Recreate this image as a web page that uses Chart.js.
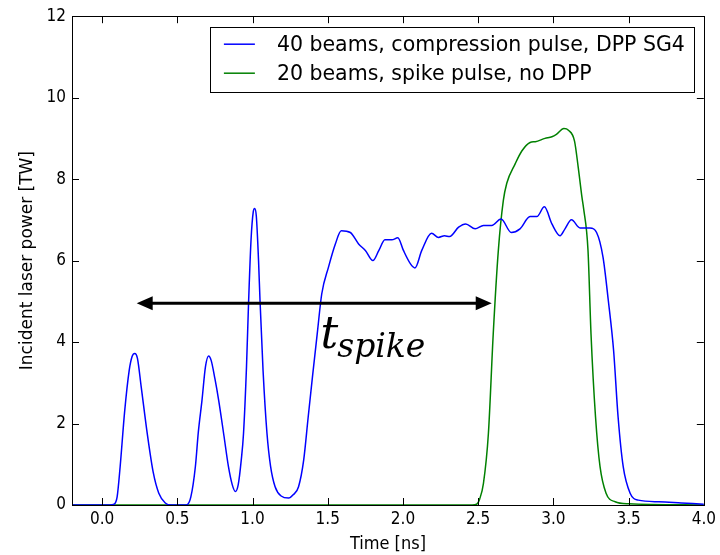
<!DOCTYPE html>
<html>
<head>
<meta charset="utf-8">
<script src="https://cdn.jsdelivr.net/npm/chart.js@4.4.0/dist/chart.umd.min.js"></script>
<style>
  html, body { margin: 0; padding: 0; background: #fff; }
  canvas { display: block; }
</style>
</head>
<body>
<canvas id="pulseChart" width="720" height="555"></canvas>
<script>
// data (time in ns, power in TW)
const blueT = [-0.2, 0.05, 0.08, 0.10, 0.12, 0.15, 0.18, 0.20, 0.217, 0.235, 0.26, 0.30, 0.34, 0.377, 0.42, 0.46,
  0.56, 0.59, 0.62, 0.64, 0.664, 0.687, 0.708, 0.725, 0.75, 0.775, 0.81, 0.84, 0.865, 0.886, 0.905, 0.925, 0.94,
  0.96, 0.974, 0.99, 1.005, 1.014, 1.025, 1.04, 1.05, 1.07, 1.096, 1.12, 1.15, 1.19, 1.24, 1.27, 1.306, 1.34, 1.37,
  1.40, 1.43, 1.46, 1.505, 1.55, 1.59, 1.65, 1.705, 1.75, 1.80, 1.84, 1.88, 1.926, 1.966, 2.003, 2.05, 2.08, 2.125,
  2.19, 2.236, 2.276, 2.31, 2.37, 2.417, 2.48, 2.535, 2.59, 2.652, 2.72, 2.778, 2.845, 2.89, 2.94, 2.99, 3.044,
  3.077, 3.12, 3.177, 3.243, 3.287, 3.33, 3.365, 3.40, 3.43, 3.464, 3.51, 3.564, 3.7, 3.85, 4.0];
const blueP = [0, 0, 0.02, 0.2, 0.94, 2.3, 3.3, 3.65, 3.72, 3.6, 2.9, 1.76, 0.8, 0.29, 0.05, 0,
  0, 0.2, 0.94, 1.8, 2.57, 3.39, 3.66, 3.55, 3.1, 2.57, 1.7, 0.94, 0.5, 0.33, 0.5, 1.1, 1.75,
  3.4, 5.0, 6.5, 7.2, 7.28, 7.1, 6.0, 5.0, 3.3, 1.76, 0.95, 0.45, 0.22, 0.17, 0.25, 0.45, 1.1, 2.16,
  3.2, 4.2, 5.18, 5.84, 6.4, 6.73, 6.69, 6.41, 6.25, 6.0, 6.25, 6.51, 6.51, 6.56, 6.25, 5.92, 5.82, 6.25,
  6.67, 6.57, 6.61, 6.59, 6.82, 6.90, 6.78, 6.86, 6.86, 7.02, 6.69, 6.78, 7.08, 7.08, 7.32, 6.90, 6.61,
  6.78, 7.0, 6.80, 6.80, 6.69, 6.08, 5.02, 3.8, 2.16, 0.94, 0.29, 0.12, 0.08, 0.05, 0.02];

const greenT = [-0.2, 2.46, 2.49, 2.51, 2.535, 2.568, 2.60, 2.634, 2.667, 2.69, 2.745, 2.79, 2.845, 2.88, 2.944,
  2.99, 3.02, 3.07, 3.10, 3.14, 3.165, 3.19, 3.20, 3.23, 3.25, 3.28, 3.31, 3.35, 3.41, 3.5, 4.0];
const greenP = [0, 0, 0.02, 0.15, 0.53, 1.76, 4.2, 6.25, 7.47, 7.9, 8.37, 8.69, 8.90, 8.92, 9.0,
  9.04, 9.10, 9.24, 9.20, 8.94, 8.29, 7.55, 7.3, 6.25, 4.2, 2.16, 0.94, 0.29, 0.08, 0.03, 0];

const seriesLabels = ['40 beams, compression pulse, DPP SG4', '20 beams, spike pulse, no DPP'];
const xTicks = [0, 0.5, 1.0, 1.5, 2.0, 2.5, 3.0, 3.5, 4.0];
const yTicks = [0, 2, 4, 6, 8, 10, 12];

// double arrow + t_spike label, in data units
const arrowT = [0.23, 2.59];
const arrowP = 4.95;
const labelAt = [1.452, 3.85];

const narrowFont = '"DejaVu Sans Condensed", "DejaVu Sans", sans-serif';

function toPoints(xs, ys) {
    return xs.map((x, i) => ({ x: x, y: ys[i] }));
}

// frame on all four sides with inward ticks (matplotlib classic look)
const frameTicks = {
    id: 'frameTicks',
    afterDraw(chart) {
        const { ctx, chartArea: a, scales: { x, y } } = chart;
        ctx.save();
        ctx.strokeStyle = '#000';
        ctx.lineWidth = 1;
        ctx.beginPath();
        x.ticks.forEach(t => {
            const px = Math.round(x.getPixelForValue(t.value)) + 0.5;
            ctx.moveTo(px, a.bottom); ctx.lineTo(px, a.bottom - 7);
            ctx.moveTo(px, a.top); ctx.lineTo(px, a.top + 7);
        });
        y.ticks.forEach(t => {
            const py = Math.round(y.getPixelForValue(t.value)) + 0.5;
            ctx.moveTo(a.left, py); ctx.lineTo(a.left + 7, py);
            ctx.moveTo(a.right, py); ctx.lineTo(a.right - 7, py);
        });
        ctx.stroke();
        ctx.strokeRect(Math.round(a.left) + 0.5, Math.round(a.top) + 0.5,
            Math.round(a.right - a.left), Math.round(a.bottom - a.top));
        ctx.restore();
    }
};

// arrow and the math label
const spikeArrow = {
    id: 'spikeArrow',
    afterDatasetsDraw(chart) {
        const { ctx, scales: { x, y } } = chart;
        const x0 = x.getPixelForValue(arrowT[0]);
        const x1 = x.getPixelForValue(arrowT[1]);
        const py = y.getPixelForValue(arrowP);
        const head = 16, half = 7;
        ctx.save();
        ctx.strokeStyle = '#000';
        ctx.fillStyle = '#000';
        ctx.lineWidth = 3;
        ctx.beginPath();
        ctx.moveTo(x0 + head - 2, py); ctx.lineTo(x1 - head + 2, py);
        ctx.stroke();
        ctx.beginPath();
        ctx.moveTo(x0, py); ctx.lineTo(x0 + head, py - half); ctx.lineTo(x0 + head, py + half); ctx.closePath();
        ctx.moveTo(x1, py); ctx.lineTo(x1 - head, py - half); ctx.lineTo(x1 - head, py + half); ctx.closePath();
        ctx.fill();

        const lx = x.getPixelForValue(labelAt[0]);
        const ly = y.getPixelForValue(labelAt[1]);
        ctx.textBaseline = 'alphabetic';
        ctx.textAlign = 'left';
        ctx.font = 'italic 44px "DejaVu Serif"';
        ctx.fillText('t', lx, ly);
        const tw = ctx.measureText('t').width;
        ctx.font = 'italic 33px "DejaVu Serif"';
        ctx.fillText('spike', lx + tw - 1, ly + 9);
        ctx.restore();
    }
};

// boxed legend inside the upper right of the plot
const boxLegend = {
    id: 'boxLegend',
    afterDraw(chart) {
        const { ctx, chartArea: a } = chart;
        const sets = chart.data.datasets;
        ctx.save();
        ctx.font = '20.5px "DejaVu Sans"';
        const tw = Math.max(...sets.map(d => ctx.measureText(d.label).width));
        const w = 67 + tw + 9, h = 65;
        const right = a.right - 10, top = a.top + 11;
        const left = right - w;
        ctx.fillStyle = '#fff';
        ctx.fillRect(left, top, w, h);
        ctx.strokeStyle = '#000';
        ctx.lineWidth = 1;
        ctx.strokeRect(Math.round(left) + 0.5, Math.round(top) + 0.5, Math.round(w), h);
        sets.forEach((d, i) => {
            const cy = top + 17 + i * 29;
            ctx.strokeStyle = d.borderColor;
            ctx.lineWidth = 1.5;
            ctx.beginPath();
            ctx.moveTo(left + 14, cy); ctx.lineTo(left + 45, cy);
            ctx.stroke();
            ctx.fillStyle = '#000';
            ctx.textBaseline = 'middle';
            ctx.fillText(d.label, left + 67, cy + 1);
        });
        ctx.restore();
    }
};

Chart.defaults.font.family = '"DejaVu Sans", sans-serif';
Chart.defaults.color = '#000';

const ctx = document.getElementById('pulseChart').getContext('2d');
new Chart(ctx, {
    type: 'line',
    data: {
        datasets: [{
            label: seriesLabels[0],
            data: toPoints(blueT, blueP),
            borderColor: '#0000ff',
            borderWidth: 1.5,
            pointRadius: 0,
            cubicInterpolationMode: 'monotone',
            fill: false
        }, {
            label: seriesLabels[1],
            data: toPoints(greenT, greenP),
            borderColor: '#008000',
            borderWidth: 1.5,
            pointRadius: 0,
            cubicInterpolationMode: 'monotone',
            fill: false
        }]
    },
    options: {
        responsive: false,
        animation: false,
        devicePixelRatio: 1,
        layout: { padding: { top: 15, right: 13, left: 0, bottom: 0 } },
        plugins: { legend: { display: false }, tooltip: { enabled: false } },
        scales: {
            x: {
                type: 'linear',
                min: -0.2, max: 4.0,
                afterBuildTicks: s => { s.ticks = xTicks.map(v => ({ value: v })); },
                afterFit: s => { s.height = 50; },
                grid: { display: false, drawTicks: false },
                border: { display: false },
                ticks: { padding: 4, font: { size: 17, family: narrowFont }, callback: v => v.toFixed(1) },
                title: { display: true, text: 'Time [ns]', font: { size: 18, family: narrowFont }, padding: { top: 0, bottom: 0 } }
            },
            y: {
                type: 'linear',
                min: 0, max: 12,
                afterBuildTicks: s => { s.ticks = yTicks.map(v => ({ value: v })); },
                afterFit: s => { s.width = 72; },
                grid: { display: false, drawTicks: false },
                border: { display: false },
                ticks: { padding: 6, font: { size: 17, family: narrowFont } },
                title: { display: true, text: 'Incident laser power [TW]', font: { size: 17 }, padding: { top: 17, bottom: 0 } }
            }
        }
    },
    plugins: [spikeArrow, frameTicks, boxLegend]
});
</script>
</body>
</html>
